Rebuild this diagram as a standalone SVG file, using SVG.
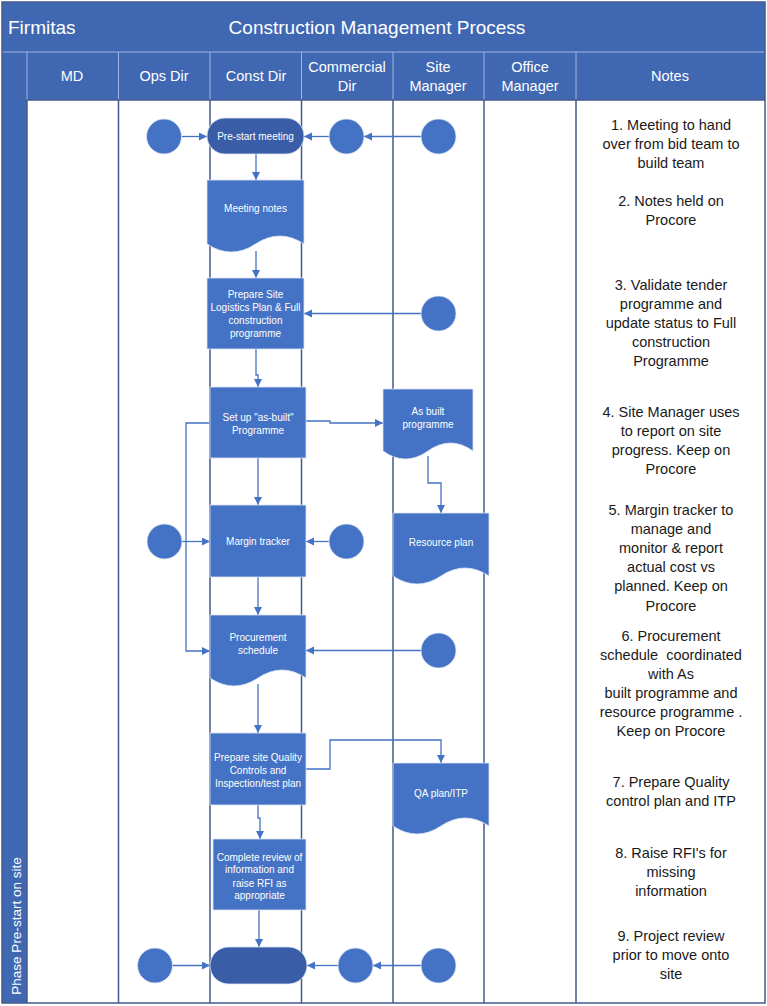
<svg xmlns="http://www.w3.org/2000/svg" width="767" height="1006" viewBox="0 0 767 1006">
<defs>
<style>
.hdr{fill:#4068B2}
.sep{stroke:#9FB4DF;stroke-width:1}
.lane{stroke:#44598C;stroke-width:1.5;fill:none}
.ht{font-family:"Liberation Sans",Arial,sans-serif;fill:#ffffff;font-size:14.5px;text-anchor:middle}
.tt{font-family:"Liberation Sans",Arial,sans-serif;fill:#ffffff;font-size:19px}
.box{fill:#4472C4;stroke:#DCE5F4;stroke-width:0.8}
.term{fill:#3A5DA8;stroke:#DCE5F4;stroke-width:0.8}
.circ{fill:#4472C4;stroke:#DCE5F4;stroke-width:0.8}
.nt{font-family:"Liberation Sans",Arial,sans-serif;fill:#ffffff;font-size:10px;text-anchor:middle}
.note{font-family:"Liberation Sans",Arial,sans-serif;fill:#1a1a1a;font-size:14.5px;text-anchor:middle}
.con{stroke:#4472C4;stroke-width:1.3;fill:none;marker-end:url(#ah)}
</style>
<marker id="ah" markerUnits="userSpaceOnUse" markerWidth="9" markerHeight="9" refX="8" refY="4" orient="auto">
<path d="M0,0 L8,4 L0,8 z" fill="#4472C4"/>
</marker>
</defs>
<rect x="0" y="0" width="767" height="1006" fill="#ffffff"/>
<g id="frame">
<rect class="hdr" x="2" y="2" width="763" height="50"/>
<rect class="hdr" x="2" y="52" width="763" height="48"/>
<rect class="hdr" x="2" y="52" width="25" height="951"/>
<line class="sep" x1="2" y1="52" x2="765" y2="52"/>
<line class="sep" x1="27" y1="52" x2="27" y2="100"/>
<line class="sep" x1="118.5" y1="52" x2="118.5" y2="100"/>
<line class="sep" x1="210" y1="52" x2="210" y2="100"/>
<line class="sep" x1="301.5" y1="52" x2="301.5" y2="100"/>
<line class="sep" x1="393" y1="52" x2="393" y2="100"/>
<line class="sep" x1="484" y1="52" x2="484" y2="100"/>
<line class="sep" x1="576" y1="52" x2="576" y2="100"/>
<text class="tt" x="8" y="34">Firmitas</text>
<text class="tt" x="377" y="34" text-anchor="middle">Construction Management Process</text>
<text class="ht" x="72" y="81">MD</text>
<text class="ht" x="164" y="81">Ops Dir</text>
<text class="ht" x="256" y="81">Const Dir</text>
<text class="ht" x="347" y="72">Commercial</text>
<text class="ht" x="347" y="91">Dir</text>
<text class="ht" x="438" y="72">Site</text>
<text class="ht" x="438" y="91">Manager</text>
<text class="ht" x="530" y="72">Office</text>
<text class="ht" x="530" y="91">Manager</text>
<text class="ht" x="670" y="81">Notes</text>
<text class="ht" style="font-size:13.5px" transform="translate(20.5,926) rotate(-90)" x="0" y="0">Phase Pre-start on site</text>
</g>
<g id="lanes">
<line class="lane" x1="27" y1="100" x2="27" y2="1003"/>
<line class="lane" x1="118.5" y1="100" x2="118.5" y2="1003"/>
<line class="lane" x1="210" y1="100" x2="210" y2="1003"/>
<line class="lane" x1="301.5" y1="100" x2="301.5" y2="1003"/>
<line class="lane" x1="393" y1="100" x2="393" y2="1003"/>
<line class="lane" x1="484" y1="100" x2="484" y2="1003"/>
<line class="lane" x1="576" y1="100" x2="576" y2="1003"/>
<line class="lane" x1="27" y1="100" x2="765" y2="100"/>
<rect class="lane" x="2" y="2" width="763" height="1001"/>
</g>
<g id="connectors">
<path class="con" d="M182,136.5 H207"/>
<path class="con" d="M329,136.5 H304"/>
<path class="con" d="M421,136.5 H364"/>
<path class="con" d="M256,154 V180"/>
<path class="con" d="M256,251 V278"/>
<path class="con" d="M421,313.5 H304"/>
<path class="con" d="M256,349 V375 H258 V387"/>
<path class="con" d="M306,421 H330 V423 H383"/>
<path class="con" d="M428,456 V483 H441 V513"/>
<path class="con" d="M258,458 V505"/>
<path class="con" d="M182,541.5 H210"/>
<path class="con" d="M329,541.5 H306"/>
<path class="con" d="M210,423 H186 V651 H210"/>
<path class="con" d="M258,577 V615"/>
<path class="con" d="M421,650.5 H306"/>
<path class="con" d="M258,684 V733"/>
<path class="con" d="M306,769 H330 V740 H441 V763"/>
<path class="con" d="M258,805 V818 H260 V839"/>
<path class="con" d="M259,910 V947"/>
<path class="con" d="M173,965.5 H210"/>
<path class="con" d="M338,965.5 H307"/>
<path class="con" d="M421,965.5 H373"/>
</g>
<g id="start-ops"><circle class="circ" cx="164" cy="136.5" r="17.5"/></g>
<g id="start-comm"><circle class="circ" cx="346.5" cy="136.5" r="17.5"/></g>
<g id="start-site"><circle class="circ" cx="438.5" cy="136.5" r="17.5"/></g>
<g id="prestart"><rect class="term" x="207" y="118" width="97" height="36" rx="18"/><text class="nt" x="255.5" y="140">Pre-start meeting</text></g>
<g id="meeting-notes"><path class="box" d="M207,180 H304 V244 Q279.75,228 255.5,244 T207,244 Z"/><text class="nt" x="255.5" y="212">Meeting notes</text></g>
<g id="logistics"><rect class="box" x="207" y="278" width="97" height="71"/><text class="nt" x="255.5" y="298">Prepare Site</text><text class="nt" x="255.5" y="311">Logistics Plan &amp; Full</text><text class="nt" x="255.5" y="324">construction</text><text class="nt" x="255.5" y="337">programme</text></g>
<g id="site-circ-1"><circle class="circ" cx="438.5" cy="313.5" r="17.5"/></g>
<g id="asbuilt-setup"><rect class="box" x="210" y="387" width="96" height="71"/><text class="nt" x="258" y="421">Set up "as-built"</text><text class="nt" x="258" y="434">Programme</text></g>
<g id="asbuilt-doc"><path class="box" d="M383,389 H473 V451 Q450.5,435 428,451 T383,451 Z"/><text class="nt" x="428" y="415">As built</text><text class="nt" x="428" y="428">programme</text></g>
<g id="resource-plan"><path class="box" d="M393,513 H489 V576 Q465,560 441,576 T393,576 Z"/><text class="nt" x="441" y="546">Resource plan</text></g>
<g id="margin-ops"><circle class="circ" cx="164.5" cy="541.5" r="17.5"/></g>
<g id="margin"><rect class="box" x="210" y="505" width="96" height="72"/><text class="nt" x="258" y="545">Margin tracker</text></g>
<g id="margin-comm"><circle class="circ" cx="346.5" cy="541.5" r="17.5"/></g>
<g id="procurement"><path class="box" d="M210,615 H306 V678 Q282,662 258,678 T210,678 Z"/><text class="nt" x="258" y="641">Procurement</text><text class="nt" x="258" y="654">schedule</text></g>
<g id="site-circ-2"><circle class="circ" cx="438.5" cy="650.5" r="17.5"/></g>
<g id="quality"><rect class="box" x="210" y="733" width="96" height="72"/><text class="nt" x="258" y="761">Prepare site Quality</text><text class="nt" x="258" y="774">Controls and</text><text class="nt" x="258" y="787">Inspection/test plan</text></g>
<g id="qa-plan"><path class="box" d="M393,763 H489 V826 Q465,810 441,826 T393,826 Z"/><text class="nt" x="441" y="797">QA plan/ITP</text></g>
<g id="review"><rect class="box" x="213" y="839" width="93" height="71"/><text class="nt" x="259.5" y="861">Complete review of</text><text class="nt" x="259.5" y="873">information and</text><text class="nt" x="259.5" y="887">raise RFI as</text><text class="nt" x="259.5" y="899">appropriate</text></g>
<g id="end-ops"><circle class="circ" cx="155" cy="965.5" r="17.5"/></g>
<g id="end"><rect class="term" x="210" y="947" width="97" height="37" rx="18.5"/></g>
<g id="end-comm"><circle class="circ" cx="355.5" cy="965.5" r="17.5"/></g>
<g id="end-site"><circle class="circ" cx="438.5" cy="965.5" r="17.5"/></g>
<g id="notes">
<text class="note" x="671" y="130">1. Meeting to hand</text>
<text class="note" x="671" y="149">over from bid team to</text>
<text class="note" x="671" y="168">build team</text>
<text class="note" x="671" y="206">2. Notes held on</text>
<text class="note" x="671" y="225">Procore</text>
<text class="note" x="671" y="290">3. Validate tender</text>
<text class="note" x="671" y="309">programme and</text>
<text class="note" x="671" y="328">update status to Full</text>
<text class="note" x="671" y="347">construction</text>
<text class="note" x="671" y="366">Programme</text>
<text class="note" x="671" y="417">4. Site Manager uses</text>
<text class="note" x="671" y="436">to report on site</text>
<text class="note" x="671" y="455">progress. Keep on</text>
<text class="note" x="671" y="474">Procore</text>
<text class="note" x="671" y="515">5. Margin tracker to</text>
<text class="note" x="671" y="534">manage and</text>
<text class="note" x="671" y="553">monitor &amp; report</text>
<text class="note" x="671" y="572">actual cost vs</text>
<text class="note" x="671" y="591">planned. Keep on</text>
<text class="note" x="671" y="611">Procore</text>
<text class="note" x="671" y="641">6. Procurement</text>
<text class="note" x="671" y="660" xml:space="preserve">schedule  coordinated</text>
<text class="note" x="671" y="679">with As</text>
<text class="note" x="671" y="698">built programme and</text>
<text class="note" x="671" y="717">resource programme .</text>
<text class="note" x="671" y="736">Keep on Procore</text>
<text class="note" x="671" y="787">7. Prepare Quality</text>
<text class="note" x="671" y="806">control plan and ITP</text>
<text class="note" x="671" y="858">8. Raise RFI's for</text>
<text class="note" x="671" y="877">missing</text>
<text class="note" x="671" y="896">information</text>
<text class="note" x="671" y="941">9. Project review</text>
<text class="note" x="671" y="960">prior to move onto</text>
<text class="note" x="671" y="979">site</text>
</g>
</svg>
